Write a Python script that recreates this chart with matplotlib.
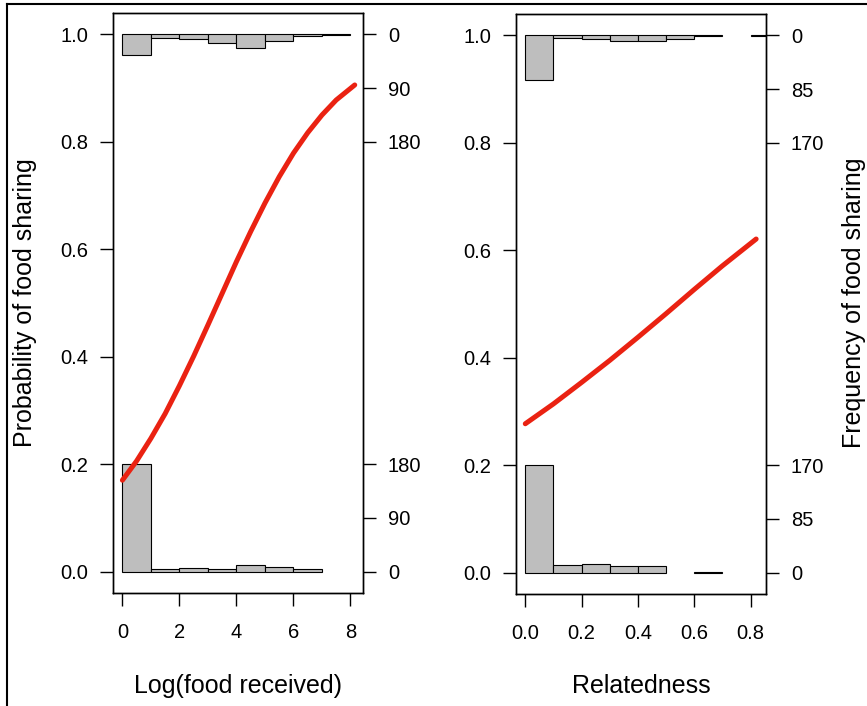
import matplotlib.pyplot as plt
from matplotlib.lines import Line2D
import numpy as np

plt.rcParams['font.family'] = ['Liberation Sans', 'DejaVu Sans']

food_x = [0.0, 0.5, 1.0, 1.5, 2.0, 2.5, 3.0, 3.5, 4.0, 4.5, 5.0, 5.5, 6.0, 6.5, 7.0, 7.5, 8.15]
food_p = [0.170, 0.206, 0.248, 0.294, 0.346, 0.401, 0.459, 0.518, 0.577, 0.633,
          0.686, 0.735, 0.779, 0.817, 0.850, 0.878, 0.906]

rel_x = [0.0, 0.1, 0.2, 0.3, 0.4, 0.5, 0.6, 0.7, 0.82]
rel_p = [0.277, 0.314, 0.354, 0.395, 0.438, 0.482, 0.527, 0.571, 0.621]

# histogram counts: sharing (top, hanging from 1) and not sharing (bottom)
food_edges = [0, 1, 2, 3, 4, 5, 6, 7, 8]
food_share = [35, 6, 7, 14, 22, 11, 2, 1]
food_none = [180, 4, 6, 4, 11, 8, 4, 0]
food_ticks = [0, 90, 180]

rel_edges = [0.0, 0.1, 0.2, 0.3, 0.4, 0.5, 0.6, 0.7, 0.8, 0.9]
rel_share = [71, 4, 6, 9, 9, 6, 1, 0, 1]
rel_none = [170, 12, 13, 10, 10, 0, 1, 0, 0]
rel_ticks = [0, 85, 170]

W, H = 867, 706
fig = plt.figure(figsize=(W / 100, H / 100), dpi=100)


def box(l, t, r, b):
    return [l / W, 1 - b / H, (r - l) / W, (b - t) / H]


def panel(ax, edges, share, none, cx, cp, ticks, xticks, xfmt, xlim):
    scale = 0.2 / ticks[-1]
    lefts = np.array(edges[:-1])
    width = edges[1] - edges[0]
    for l, c in zip(lefts, none):
        if c > 0:
            ax.bar(l, c * scale, width=width, align='edge', bottom=0,
                   color='#bebebe', edgecolor='black', linewidth=0.8)
    for l, c in zip(lefts, share):
        if c > 0:
            ax.bar(l, -c * scale, width=width, align='edge', bottom=1.0,
                   color='#bebebe', edgecolor='black', linewidth=0.8)
    ax.plot(cx, cp, color='#ea2212', lw=3.6, solid_capstyle='round')
    ax.set_xlim(*xlim)
    ax.set_ylim(-0.04, 1.04)
    ax.set_xticks(xticks)
    ax.set_xticklabels([xfmt.format(v) for v in xticks])
    ax.set_yticks([0, 0.2, 0.4, 0.6, 0.8, 1.0])
    ax.set_yticklabels(['0.0', '0.2', '0.4', '0.6', '0.8', '1.0'])
    ax.tick_params(axis='y', length=9.4, width=1, pad=8.5, labelsize=14.5)
    ax.tick_params(axis='x', length=9.4, width=1, pad=12.5, labelsize=14.5)
    for s in ax.spines.values():
        s.set_linewidth(1.0)

    tw = ax.twinx()
    tw.set_ylim(ax.get_ylim())
    pos = [t * scale for t in ticks] + [1 - t * scale for t in ticks]
    labs = [str(t) for t in ticks] * 2
    tw.set_yticks(pos)
    tw.set_yticklabels(labs)
    tw.tick_params(axis='y', length=9.4, width=1, pad=8.5, labelsize=14.5)
    for s in tw.spines.values():
        s.set_linewidth(1.0)


axL = fig.add_axes(box(113, 13, 363, 593))
panel(axL, food_edges, food_share, food_none, food_x, food_p, food_ticks,
      [0, 2, 4, 6, 8], '{:d}', (-0.33, 8.44))

axR = fig.add_axes(box(516, 14, 766, 594))
panel(axR, rel_edges, rel_share, rel_none, rel_x, rel_p, rel_ticks,
      [0.0, 0.2, 0.4, 0.6, 0.8], '{:.1f}', (-0.033, 0.855))

fig.text(238 / W, 1 - 693 / H, 'Log(food received)', ha='center', va='baseline', fontsize=18)
fig.text(641 / W, 1 - 693 / H, 'Relatedness', ha='center', va='baseline', fontsize=18)
fig.text(25 / W, 1 - 303 / H, 'Probability of food sharing', rotation=90,
         ha='center', va='center', fontsize=18)
fig.text(854 / W, 1 - 303 / H, 'Frequency of food sharing', rotation=90,
         ha='center', va='center', fontsize=18)

# outer frame
fig.add_artist(Line2D([7 / W, 7 / W], [0, 1 - 4 / H], transform=fig.transFigure,
                      color='black', lw=1.5))
fig.add_artist(Line2D([7 / W, 1], [1 - 4 / H, 1 - 4 / H], transform=fig.transFigure,
                      color='black', lw=1.5))

fig.savefig('out.png', dpi=100)
